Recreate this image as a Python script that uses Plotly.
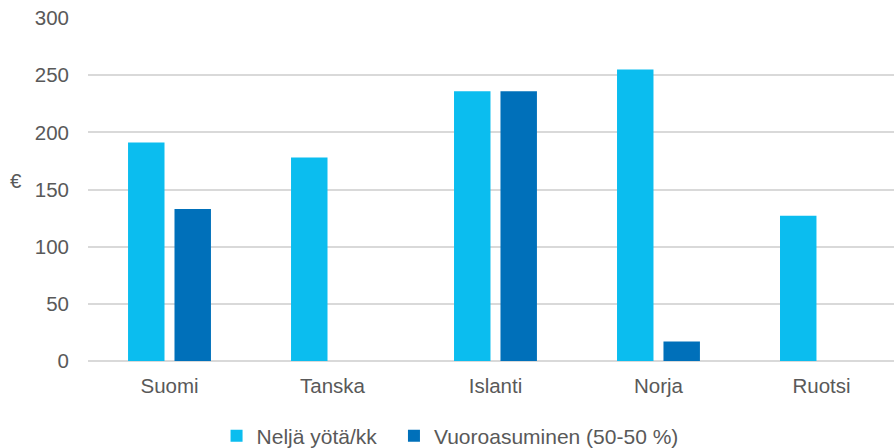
import plotly.graph_objects as go

categories = ["Suomi", "Tanska", "Islanti", "Norja", "Ruotsi"]
series1_name = "Neljä yötä/kk"
series1 = [191, 178, 236, 255, 127]
series2_name = "Vuoroasuminen (50-50 %)"
series2 = [133, 0, 236, 17, 0]
y_ticks = [0, 50, 100, 150, 200, 250, 300]

font = "Liberation Sans, Arial, sans-serif"
fig = go.Figure()
fig.add_trace(go.Bar(x=categories, y=series1, name=series1_name, legend="legend",
                     marker=dict(color="#0BBDEF", line=dict(width=0))))
fig.add_trace(go.Bar(x=categories, y=series2, name=series2_name, legend="legend2",
                     marker=dict(color="#0070BA", line=dict(width=0))))

leg_common = dict(orientation="h", xanchor="left", y=-0.219, yanchor="middle",
                  font=dict(size=21, color="#595959"), itemwidth=30, bgcolor="rgba(0,0,0,0)")
fig.update_layout(
    width=894, height=448,
    margin=dict(l=88, r=0, t=18, b=87, autoexpand=False),
    plot_bgcolor="white", paper_bgcolor="white",
    barmode="group", bargap=0.43, bargroupgap=0.215,
    font=dict(family=font, size=20.5, color="#595959"),
    showlegend=True,
    legend=dict(x=0.1595, **leg_common),
    legend2=dict(x=0.3796, **leg_common),
    yaxis=dict(range=[0, 300], tickvals=y_ticks, showgrid=True, gridcolor="#D9D9D9", gridwidth=1.5,
               zeroline=True, zerolinecolor="#D9D9D9", zerolinewidth=1.5, ticks="", ticklen=0,
               ticklabelstandoff=18,
               tickfont=dict(size=20.5, color="#595959"), showline=False),
    xaxis=dict(showline=False, ticks="", range=[-0.5, 4.445], ticklabelstandoff=10,
               tickfont=dict(size=20.5, color="#595959")),
    annotations=[dict(text="€", x=-0.099, xref="paper", y=158, yref="y", showarrow=False,
                      font=dict(size=20.5, color="#595959"))],
)
fig.write_html("out.html", config={"displayModeBar": False},
               post_script="document.body.style.margin='0';document.body.style.overflow='hidden';")
